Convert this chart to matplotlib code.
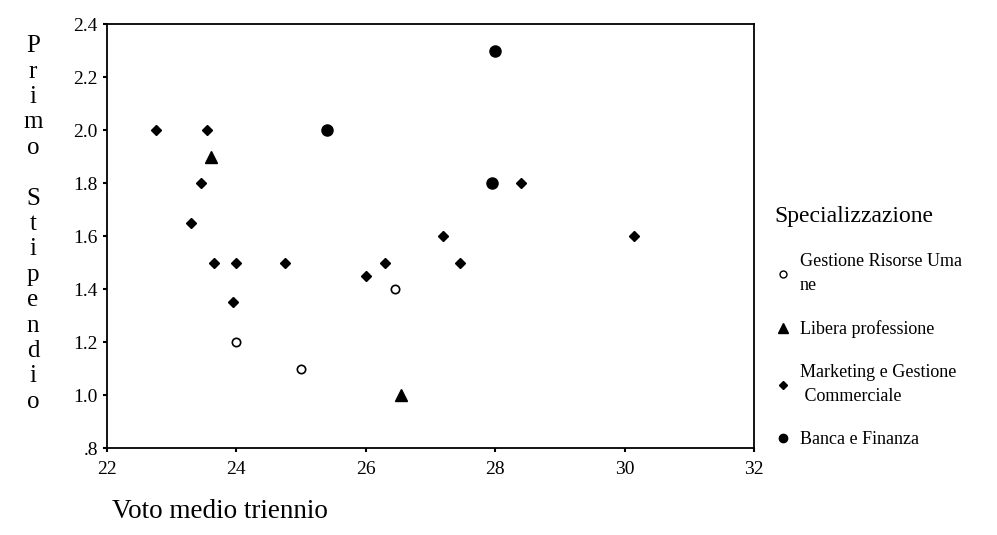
import matplotlib
matplotlib.use("Agg")
import matplotlib.pyplot as plt
from matplotlib.lines import Line2D

plt.rcParams['font.family'] = ['Liberation Serif', 'DejaVu Serif']

# Gestione Risorse Umane
hr_x = [24.0, 25.0, 26.45]
hr_y = [1.2, 1.1, 1.4]
# Libera professione
lib_x = [23.6, 26.55]
lib_y = [1.9, 1.0]
# Marketing e Gestione Commerciale
mkt_x = [22.75, 23.55, 23.45, 23.3, 23.65, 24.0, 24.75, 23.95, 26.0, 26.3, 27.2, 27.45, 28.4, 30.15]
mkt_y = [2.0, 2.0, 1.8, 1.65, 1.5, 1.5, 1.5, 1.35, 1.45, 1.5, 1.6, 1.5, 1.8, 1.6]
# Banca e Finanza
bank_x = [25.4, 28.0, 27.95]
bank_y = [2.0, 2.3, 1.8]

x_ticks = [22, 24, 26, 28, 30, 32]
y_ticks = [0.8, 1.0, 1.2, 1.4, 1.6, 1.8, 2.0, 2.2, 2.4]
y_labels = ['.8', '1.0', '1.2', '1.4', '1.6', '1.8', '2.0', '2.2', '2.4']

fig = plt.figure(figsize=(9.97, 5.35), dpi=100)
ax = fig.add_axes([0.1073, 0.1626, 0.6490, 0.7925])

ax.plot(hr_x, hr_y, 'o', markerfacecolor='white', markeredgecolor='black', markersize=6, markeredgewidth=1.2)
ax.plot(lib_x, lib_y, '^', color='black', markersize=9)
ax.plot(mkt_x, mkt_y, 'D', color='black', markersize=5.5)
ax.plot(bank_x, bank_y, 'o', color='black', markersize=8)

ax.set_xlim(22, 32)
ax.set_ylim(0.8, 2.4)
ax.set_xticks(x_ticks)
ax.set_yticks(y_ticks)
ax.set_yticklabels(y_labels)
ax.tick_params(direction='out', length=3, width=1.5, labelsize=14, colors='black')
ax.tick_params(axis='x', pad=6)
for s in ax.spines.values():
    s.set_linewidth(1.3)

fig.text(112 / 997, 1 - 512 / 535, 'Voto medio triennio', fontsize=19.5, va='center', ha='left')
fig.text(33 / 997, 1 - 224 / 535, 'P\nr\ni\nm\no\n\nS\nt\ni\np\ne\nn\nd\ni\no',
         fontsize=18, ha='center', va='center', linespacing=1.2)

handles = [
    Line2D([], [], ls='', marker='o', markerfacecolor='white', markeredgecolor='black', markersize=5),
    Line2D([], [], ls='', marker='^', color='black', markersize=7),
    Line2D([], [], ls='', marker='D', color='black', markersize=4),
    Line2D([], [], ls='', marker='o', color='black', markersize=6),
]
labels = ['Gestione Risorse Uma\nne', 'Libera professione',
          'Marketing e Gestione\n Commerciale', 'Banca e Finanza']
leg = fig.legend(handles, labels, title='Specializzazione', loc='upper left',
                 bbox_to_anchor=(758 / 997, 1 - 190 / 535), frameon=False,
                 fontsize=13, title_fontsize=17, handletextpad=0.4,
                 handlelength=1.0, labelspacing=1.45)
leg._legend_box.align = 'left'
for t in leg.get_texts():
    t.set_linespacing(1.5)

fig.savefig('out.png', dpi=100)
